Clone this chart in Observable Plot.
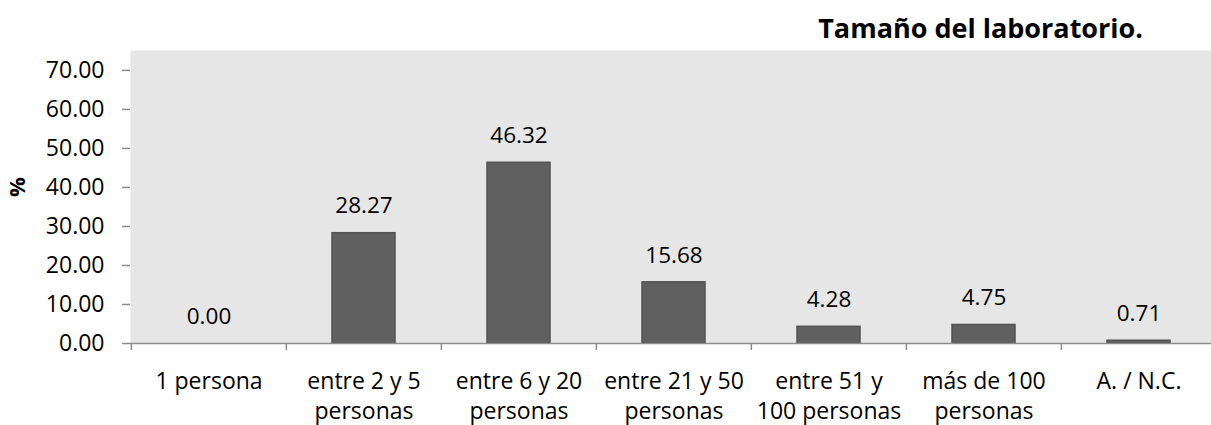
<!DOCTYPE html>
<html>
<head>
<meta charset="utf-8">
<script src="https://cdn.jsdelivr.net/npm/d3@7"></script>
<script src="https://cdn.jsdelivr.net/npm/@observablehq/plot@0.6"></script>
<style>
  html, body { margin: 0; padding: 0; background: #fff; overflow: hidden; }
  #wrap { position: relative; width: 1211px; height: 425px; font-family: "Open Sans", sans-serif; }
  #title { position: absolute; right: 68px; top: 9px; margin: 0; font-size: 27px; font-weight: bold; color: #000; }
  #chart svg { display: block; }
</style>
</head>
<body>
<div id="wrap">
  <div id="chart"></div>
  <h2 id="title">Tamaño del laboratorio.</h2>
</div>
<script>
// Lab size categories and the share of respondents (%) in each
const categories = [
  "1 persona",
  "entre 2 y 5\npersonas",
  "entre 6 y 20\npersonas",
  "entre 21 y 50\npersonas",
  "entre 51 y\n100 personas",
  "más de 100\npersonas",
  "A. / N.C."
];
const percents = [0.00, 28.27, 46.32, 15.68, 4.28, 4.75, 0.71];
const yTicks = [0, 10, 20, 30, 40, 50, 60, 70];

const rows = categories.map((c, i) => ({category: c, value: percents[i]}));
const fmt = d3.format(".2f");

const W = 1211, H = 425;
const plotLeft = 130, plotTop = 50, plotBottom = 343;
const xRange = [plotLeft, 1217];
const band = (xRange[1] - xRange[0]) / categories.length;

const chart = Plot.plot({
  width: W,
  height: H,
  marginLeft: plotLeft,
  marginRight: 0,
  marginTop: plotTop,
  marginBottom: H - plotBottom,
  style: {fontFamily: "Open Sans, sans-serif", fontSize: "22.5px", color: "#000", background: "#fff"},
  x: {domain: categories, range: xRange, padding: 0},
  y: {domain: [0, 75.1], range: [plotBottom, plotTop]},
  marks: [
    Plot.frame({fill: "#e6e6e6", stroke: null}),
    Plot.barY(rows, {x: "category", y: "value", fill: "#606060", stroke: "#525252", strokeWidth: 1.5, insetLeft: 46, insetRight: 46}),
    Plot.ruleY([0], {stroke: "#8c8c8c", strokeWidth: 1.5}),
    // category boundary ticks below the baseline
    Plot.ruleX(rows, {x: "category", dx: -band / 2, y1: 0, y2: 0, insetBottom: -7, stroke: "#8c8c8c", strokeWidth: 1.5}),
    Plot.text(rows, {x: "category", y: "value", text: d => fmt(d.value), dy: -27, fontSize: 22.5, fill: "#000", lineAnchor: "middle"}),
    Plot.axisY({ticks: yTicks, tickFormat: fmt, tickSize: 8, tickPadding: 18, stroke: "#8c8c8c", strokeWidth: 1.5, line: true, label: null, fontSize: 23, color: "#000", fill: "#000"}),
    Plot.axisX({tickSize: 0, tickPadding: 24, label: null, fontSize: 23, lineHeight: 1.3, fill: "#000"}),
    Plot.text(["%"], {frameAnchor: "left", dx: -113, rotate: -90, fontWeight: "bold", fontSize: 22, fill: "#000"})
  ]
});
document.getElementById("chart").append(chart);
</script>
</body>
</html>
